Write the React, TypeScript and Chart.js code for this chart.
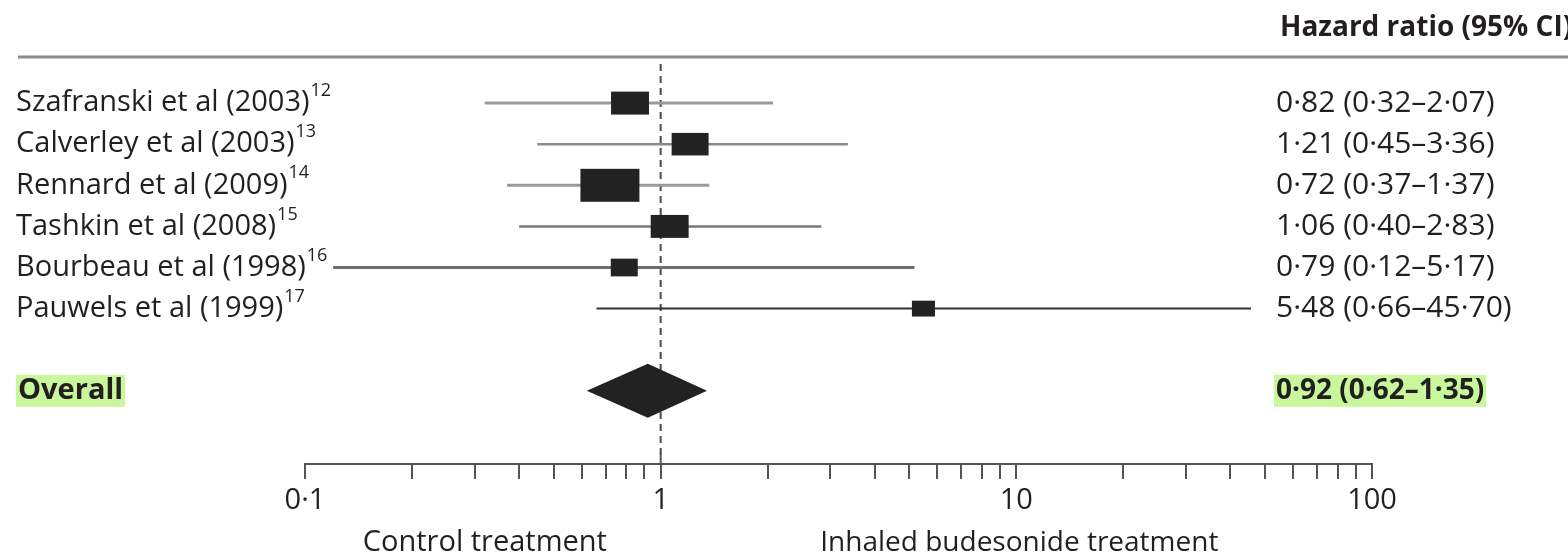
import React, { useEffect, useRef } from "react";
import { Chart, registerables } from "chart.js";

Chart.register(...registerables);

// Study-level hazard ratios with 95% confidence intervals
const studyNames = [
  "Szafranski et al (2003)",
  "Calverley et al (2003)",
  "Rennard et al (2009)",
  "Tashkin et al (2008)",
  "Bourbeau et al (1998)",
  "Pauwels et al (1999)",
];
const studyRefs = ["12", "13", "14", "15", "16", "17"];
const hazardRatio = [0.82, 1.21, 0.72, 1.06, 0.79, 5.48];
const ciLower = [0.32, 0.45, 0.37, 0.4, 0.12, 0.66];
const ciUpper = [2.07, 3.36, 1.37, 2.83, 5.17, 45.7];
// Relative study weights (%), which set the size of each square
const studyWeight = [16.0, 15.2, 38.7, 16.0, 8.1, 5.9];

// Pooled estimate
const overallLabel = "Overall";
const overallHR = [0.92];
const overallLower = [0.62];
const overallUpper = [1.35];
const overallRow = 7;

// Axis
const majorTicks = [0.1, 1, 10, 100];
const majorTickLabels = ["0·1", "1", "10", "100"];
const minorMultipliers = [2, 3, 4, 5, 6, 7, 8, 9];
const headerText = "Hazard ratio (95% CI)";
const leftSideLabel = "Control treatment";
const rightSideLabel = "Inhaled budesonide treatment";

const ciColors = ["#9a9a9a", "#8a8a8a", "#9a9a9a", "#7a7a7a", "#6e6e6e", "#333333"];
const ciWidths = [3, 2.5, 3, 2.5, 3, 2];

const FONT = "'Open Sans', 'DejaVu Sans', sans-serif";
const INK = "#231f20";
const HIGHLIGHT = "#c9f79b";

const fmt = (v: number) => v.toFixed(2).replace(".", "·");

export default function App() {
  const canvasRef = useRef<HTMLCanvasElement | null>(null);

  useEffect(() => {
    document.body.style.margin = "0";
    const canvas = canvasRef.current;
    if (!canvas) return;

    const whiskerSets = studyNames.map((name, i) => ({
      type: "line" as const,
      label: name,
      data: [
        { x: ciLower[i], y: i },
        { x: ciUpper[i], y: i },
      ],
      borderColor: ciColors[i],
      borderWidth: ciWidths[i],
      pointRadius: 0,
      fill: false,
    }));

    const estimateSet = {
      type: "scatter" as const,
      label: "estimates",
      data: hazardRatio.map((v, i) => ({ x: v, y: i })),
      pointRadius: 0,
      backgroundColor: "#222",
    };

    const forestPlugin = {
      id: "forestPlot",
      beforeDatasetsDraw(chart: any) {
        const { ctx, chartArea, scales } = chart;
        const x1 = scales.x.getPixelForValue(1);
        ctx.save();
        ctx.strokeStyle = "#4a4a4a";
        ctx.lineWidth = 2;
        ctx.setLineDash([7, 5]);
        ctx.beginPath();
        ctx.moveTo(x1, chartArea.top);
        ctx.lineTo(x1, chartArea.bottom - 10);
        ctx.stroke();
        ctx.setLineDash([]);
        ctx.strokeStyle = "#555";
        ctx.beginPath();
        ctx.moveTo(x1, chartArea.bottom - 11);
        ctx.lineTo(x1, chartArea.bottom);
        ctx.stroke();
        ctx.restore();
      },
      afterDatasetsDraw(chart: any) {
        const { ctx, scales } = chart;
        const xs = scales.x;
        const ys = scales.y;
        ctx.save();
        ctx.fillStyle = "#222";
        // Weighted squares
        hazardRatio.forEach((v, i) => {
          const cx = xs.getPixelForValue(v);
          const cy = ys.getPixelForValue(i);
          const w = 9.48 * Math.sqrt(studyWeight[i]);
          const h = 0.476 * w + 4.9;
          ctx.fillRect(cx - w / 2, cy - h / 2, w, h);
        });
        // Pooled diamond
        const dy = ys.getPixelForValue(overallRow);
        const dl = xs.getPixelForValue(overallLower[0]);
        const dr = xs.getPixelForValue(overallUpper[0]);
        const dc = xs.getPixelForValue(overallHR[0]);
        ctx.beginPath();
        ctx.moveTo(dl, dy);
        ctx.lineTo(dc, dy - 27);
        ctx.lineTo(dr, dy);
        ctx.lineTo(dc, dy + 27);
        ctx.closePath();
        ctx.fill();
        ctx.restore();
      },
      afterDraw(chart: any) {
        const { ctx, scales, width } = chart;
        const xs = scales.x;
        const ys = scales.y;
        ctx.save();
        // Header rule and column title
        ctx.strokeStyle = "#8c8c8c";
        ctx.lineWidth = 3;
        ctx.beginPath();
        ctx.moveTo(18, 57);
        ctx.lineTo(width, 57);
        ctx.stroke();
        ctx.fillStyle = INK;
        ctx.textBaseline = "middle";
        ctx.textAlign = "left";
        ctx.font = `bold 28px ${FONT}`;
        ctx.fillText(headerText, 1280, 28);

        // Study rows
        studyNames.forEach((name, i) => {
          const y = ys.getPixelForValue(i);
          ctx.font = `29px ${FONT}`;
          ctx.fillStyle = INK;
          ctx.fillText(name, 16, y);
          const w = ctx.measureText(name).width;
          ctx.font = `18px ${FONT}`;
          ctx.fillText(studyRefs[i], 16 + w + 1, y - 12);
          ctx.font = `30px ${FONT}`;
          ctx.fillText(
            `${fmt(hazardRatio[i])} (${fmt(ciLower[i])}–${fmt(ciUpper[i])})`,
            1276,
            y
          );
        });

        // Pooled row with highlight
        const oy = ys.getPixelForValue(overallRow);
        ctx.font = `bold 29px ${FONT}`;
        const oText = `${fmt(overallHR[0])} (${fmt(overallLower[0])}–${fmt(overallUpper[0])})`;
        const lw = ctx.measureText(overallLabel).width;
        ctx.fillStyle = HIGHLIGHT;
        ctx.fillRect(16, oy - 16, lw + 4, 32);
        ctx.font = `bold 28px ${FONT}`;
        const vw = ctx.measureText(oText).width;
        ctx.fillStyle = HIGHLIGHT;
        ctx.fillRect(1274, oy - 16, vw + 4, 32);
        ctx.fillStyle = INK;
        ctx.fillText(oText, 1276, oy);
        ctx.font = `bold 29px ${FONT}`;
        ctx.fillText(overallLabel, 18, oy);

        // Side labels under the axis
        ctx.font = `29px ${FONT}`;
        ctx.textAlign = "center";
        const xMid = xs.getPixelForValue(1);
        ctx.fillText(leftSideLabel, (xs.left + xMid) / 2 + 2, 543);
        ctx.font = `28px ${FONT}`;
        ctx.fillText(rightSideLabel, (xMid + xs.right) / 2 + 3, 543);
        ctx.restore();
      },
    };

    const chart = new Chart(canvas, {
      type: "scatter",
      data: { datasets: [...whiskerSets, estimateSet] as any },
      options: {
        animation: false,
        responsive: false,
        maintainAspectRatio: false,
        layout: { padding: { left: 305, right: 196, top: 64, bottom: 0 } },
        plugins: { legend: { display: false }, tooltip: { enabled: false } },
        scales: {
          x: {
            type: "logarithmic",
            position: "bottom",
            min: 0.1,
            max: 100,
            afterBuildTicks: (scale: any) => {
              const vals: number[] = [];
              majorTicks.forEach((m, k) => {
                vals.push(m);
                if (k < majorTicks.length - 1) minorMultipliers.forEach((f) => vals.push(+(m * f).toPrecision(3)));
              });
              scale.ticks = vals.map((v) => ({ value: v }));
            },
            afterFit: (scale: any) => {
              scale.height = 93;
            },
            grid: {
              drawOnChartArea: false,
              drawTicks: true,
              tickLength: 15,
              color: "#555",
              lineWidth: 2,
            },
            border: { display: true, color: "#555", width: 2 },
            ticks: {
              autoSkip: false,
              maxRotation: 0,
              padding: 4,
              color: INK,
              font: { family: FONT, size: 29 },
              callback: (value: any) => {
                const idx = majorTicks.findIndex((m) => Math.abs(m - Number(value)) < 1e-9);
                return idx >= 0 ? majorTickLabels[idx] : "";
              },
            },
          },
          y: {
            type: "linear",
            display: false,
            reverse: true,
            min: -0.951,
            max: 8.78,
          },
        },
      },
      plugins: [forestPlugin],
    });

    return () => chart.destroy();
  }, []);

  return <canvas ref={canvasRef} width={1568} height={557} style={{ display: "block" }} />;
}
